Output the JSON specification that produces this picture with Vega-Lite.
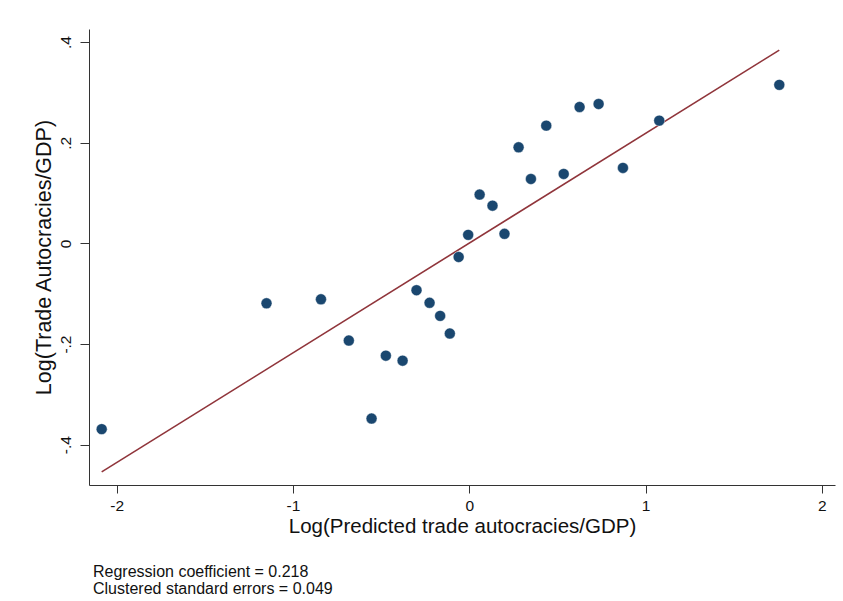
{
  "$schema": "https://vega.github.io/schema/vega-lite/v6.json",
  "width": 746,
  "height": 456,
  "autosize": {"type": "none"},
  "padding": {"left": 89, "top": 29, "right": 8, "bottom": 116},
  "background": "white",
  "config": {
    "font": "Liberation Sans",
    "view": {"stroke": null},
    "axis": {
      "domainColor": "#333333",
      "tickColor": "#333333",
      "labelColor": "#111111",
      "titleColor": "#111111",
      "grid": false,
      "labelFont": "Liberation Sans",
      "titleFont": "Liberation Sans",
      "titleFontWeight": "normal"
    }
  },
  "title": {
    "text": ["Regression coefficient = 0.218", "Clustered standard errors = 0.049"],
    "orient": "bottom",
    "anchor": "start",
    "frame": "group",
    "fontSize": 16,
    "fontWeight": "normal",
    "font": "Liberation Sans",
    "color": "#111111",
    "lineHeight": 16.5,
    "dx": 4,
    "offset": 27
  },
  "datasets": {
    "countries": [
      {"predicted": -2.085, "actual": -0.369},
      {"predicted": -1.150, "actual": -0.119},
      {"predicted": -0.841, "actual": -0.111},
      {"predicted": -0.683, "actual": -0.193},
      {"predicted": -0.554, "actual": -0.348},
      {"predicted": -0.473, "actual": -0.223},
      {"predicted": -0.378, "actual": -0.233},
      {"predicted": -0.299, "actual": -0.093},
      {"predicted": -0.225, "actual": -0.118},
      {"predicted": -0.165, "actual": -0.144},
      {"predicted": -0.110, "actual": -0.179},
      {"predicted": -0.060, "actual": -0.027},
      {"predicted": -0.006, "actual": 0.017},
      {"predicted": 0.059, "actual": 0.097},
      {"predicted": 0.132, "actual": 0.075},
      {"predicted": 0.200, "actual": 0.019},
      {"predicted": 0.280, "actual": 0.191},
      {"predicted": 0.350, "actual": 0.128},
      {"predicted": 0.437, "actual": 0.234},
      {"predicted": 0.536, "actual": 0.138},
      {"predicted": 0.626, "actual": 0.271},
      {"predicted": 0.734, "actual": 0.277},
      {"predicted": 0.872, "actual": 0.150},
      {"predicted": 1.078, "actual": 0.244},
      {"predicted": 1.759, "actual": 0.315}
    ],
    "fit": [
      {"predicted": -2.085, "actual": -0.454},
      {"predicted": 1.759, "actual": 0.384}
    ]
  },
  "encoding": {
    "x": {
      "field": "predicted",
      "type": "quantitative",
      "scale": {"domain": [-2.157, 2.075], "nice": false, "zero": false},
      "axis": {
        "title": "Log(Predicted trade autocracies/GDP)",
        "values": [-2, -1, 0, 1, 2],
        "labelExpr": "(datum.value < 0 ? '-' : '') + format(abs(datum.value), 'd')",
        "tickSize": 8,
        "labelFontSize": 15.5,
        "labelPadding": 5,
        "titleFontSize": 20.5,
        "titlePadding": 3
      }
    },
    "y": {
      "field": "actual",
      "type": "quantitative",
      "scale": {"domain": [-0.48, 0.426], "nice": false, "zero": false},
      "axis": {
        "title": "Log(Trade Autocracies/GDP)",
        "values": [-0.4, -0.2, 0, 0.2, 0.4],
        "labelExpr": "datum.value == 0 ? '0' : (datum.value < 0 ? '-' : '') + replace(format(abs(datum.value), '.1f'), '0.', '.')",
        "labelAngle": -90,
        "labelAlign": "center",
        "labelBaseline": "bottom",
        "tickSize": 9,
        "labelFontSize": 15.5,
        "labelPadding": 7,
        "titleFontSize": 21.5,
        "titlePadding": 3
      }
    }
  },
  "layer": [
    {
      "data": {"name": "fit"},
      "mark": {"type": "line", "color": "#90353b", "strokeWidth": 1.6}
    },
    {
      "data": {"name": "countries"},
      "mark": {"type": "point", "filled": true, "opacity": 1, "size": 120, "color": "#1a476f", "stroke": "#ffffff", "strokeWidth": 0.4}
    }
  ]
}
